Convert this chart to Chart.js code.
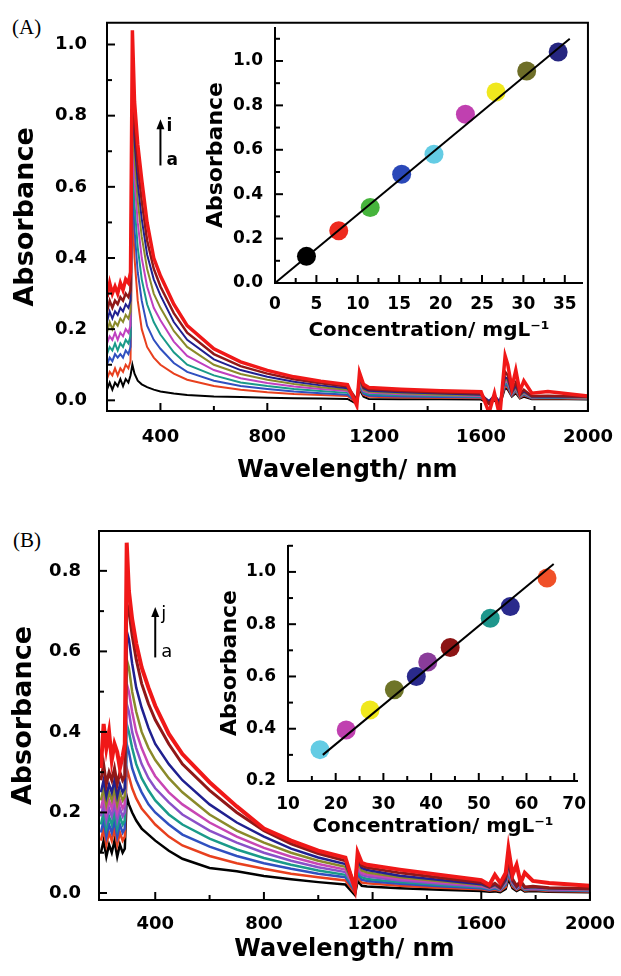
<!DOCTYPE html>
<html>
<head>
<meta charset="utf-8">
<script src="https://cdn.jsdelivr.net/npm/chart.js@4.4.1/dist/chart.umd.min.js"></script>
<style>
body { margin: 0; background: #fff; width: 621px; height: 976px; position: relative; overflow: hidden; }
canvas { position: absolute; }
.tag { position: absolute; font: 21px "Liberation Serif", "DejaVu Serif", serif; color: #000; }
</style>
</head>
<body>
<div class="tag" style="left:12px;top:15px">(A)</div>
<canvas id="mainA" width="621" height="490" style="left:0;top:0"></canvas>
<canvas id="insetA" width="420" height="340" style="left:190px;top:10px"></canvas>
<div class="tag" style="left:13px;top:528px">(B)</div>
<canvas id="mainB" width="621" height="486" style="left:0;top:490px"></canvas>
<canvas id="insetB" width="410" height="330" style="left:200px;top:520px"></canvas>
<script>
// wavelength grid shared by all spectra (nm)
const wavelength = [200,210,220,230,240,250,260,270,280,288,295,303,315,330,350,375,400,450,500,600,700,800,900,1000,1100,1135,1145,1160,1180,1300,1450,1600,1630,1650,1670,1690,1700,1715,1730,1745,1760,1790,1850,2000]
const wlTicks = [400, 800, 1200, 1600, 2000]
const wlMinor = [600, 1000, 1400, 1800]

// panel A spectra, curves a..i
const specAa = [0.03,0.05,0.03,0.05,0.04,0.06,0.04,0.06,0.05,0.07,0.10,0.075,0.055,0.045,0.037,0.03,0.025,0.019,0.015,0.011,0.009,0.007,0.006,0.005,0.004,-0.01,0.03,0.01,0.004,0.003,0.003,0.002,-0.01,0.0,-0.015,0.035,0.03,0.01,0.02,0.005,0.01,0.003,0.004,0.002]
const specAb = [0.06,0.08,0.07,0.09,0.07,0.09,0.08,0.10,0.09,0.11,0.55,0.40,0.28,0.20,0.15,0.12,0.10,0.075,0.058,0.04,0.03,0.023,0.018,0.015,0.012,-0.008,0.035,0.015,0.01,0.008,0.007,0.006,-0.008,0.004,-0.012,0.04,0.035,0.012,0.025,0.007,0.014,0.005,0.006,0.004]
const specAc = [0.10,0.12,0.11,0.13,0.12,0.13,0.12,0.14,0.13,0.15,0.62,0.48,0.36,0.28,0.21,0.17,0.145,0.105,0.08,0.055,0.04,0.032,0.025,0.02,0.016,-0.006,0.04,0.018,0.013,0.011,0.009,0.008,-0.006,0.006,-0.01,0.045,0.04,0.014,0.028,0.009,0.016,0.006,0.007,0.005]
const specAd = [0.13,0.15,0.14,0.16,0.14,0.16,0.15,0.17,0.16,0.18,0.68,0.55,0.43,0.34,0.27,0.22,0.185,0.135,0.10,0.07,0.05,0.04,0.032,0.026,0.021,-0.004,0.045,0.022,0.017,0.014,0.012,0.01,-0.005,0.008,-0.008,0.05,0.045,0.016,0.03,0.01,0.018,0.007,0.008,0.006]
const specAe = [0.16,0.18,0.17,0.19,0.17,0.19,0.18,0.20,0.19,0.21,0.74,0.62,0.50,0.40,0.32,0.26,0.225,0.165,0.125,0.085,0.062,0.049,0.039,0.032,0.026,-0.003,0.05,0.026,0.021,0.017,0.014,0.012,-0.004,0.01,-0.006,0.055,0.05,0.018,0.033,0.011,0.02,0.008,0.009,0.007]
const specAf = [0.19,0.22,0.20,0.22,0.21,0.23,0.22,0.24,0.23,0.25,0.80,0.68,0.56,0.46,0.37,0.30,0.26,0.195,0.15,0.10,0.074,0.058,0.046,0.037,0.03,-0.002,0.055,0.03,0.024,0.02,0.016,0.014,-0.003,0.012,-0.005,0.06,0.055,0.02,0.036,0.012,0.022,0.009,0.01,0.008]
const specAg = [0.22,0.25,0.23,0.25,0.24,0.26,0.25,0.27,0.26,0.28,0.84,0.73,0.61,0.51,0.41,0.34,0.295,0.22,0.17,0.115,0.085,0.066,0.052,0.042,0.034,0.0,0.06,0.034,0.027,0.023,0.019,0.016,-0.002,0.014,-0.004,0.065,0.06,0.022,0.04,0.014,0.025,0.01,0.011,0.009]
const specAh = [0.25,0.28,0.26,0.28,0.27,0.29,0.28,0.30,0.29,0.31,0.88,0.78,0.66,0.56,0.45,0.37,0.32,0.245,0.19,0.13,0.096,0.075,0.059,0.048,0.039,0.002,0.065,0.038,0.031,0.026,0.022,0.019,-0.01,0.015,-0.02,0.08,0.07,0.026,0.05,0.016,0.03,0.012,0.013,0.01]
const specAi = [0.29,0.33,0.30,0.32,0.30,0.33,0.31,0.34,0.33,0.36,1.04,0.84,0.72,0.62,0.50,0.40,0.35,0.27,0.21,0.145,0.108,0.084,0.066,0.054,0.044,-0.015,0.078,0.045,0.036,0.031,0.027,0.024,-0.035,0.02,-0.045,0.125,0.10,0.035,0.085,0.025,0.055,0.02,0.025,0.012]
const colorsA = ['#000000','#e8401e','#3050c0','#1a9a8a','#c040c0','#8a8a2a','#202090','#901818','#f01818']

// panel B spectra, curves a..j
const specBa = [0.10,0.13,0.09,0.12,0.10,0.13,0.09,0.12,0.10,0.11,0.24,0.22,0.20,0.18,0.16,0.145,0.13,0.105,0.085,0.062,0.054,0.042,0.034,0.027,0.021,-0.005,0.03,0.018,0.016,0.012,0.008,0.005,0.003,0.004,0.002,0.01,0.035,0.012,0.005,0.01,0.004,0.005,0.003,0.002]
const specBb = [0.13,0.16,0.12,0.15,0.13,0.16,0.12,0.15,0.13,0.14,0.31,0.29,0.26,0.235,0.21,0.19,0.17,0.14,0.118,0.092,0.074,0.06,0.048,0.039,0.031,0.0,0.04,0.026,0.024,0.018,0.013,0.009,0.006,0.008,0.005,0.015,0.045,0.016,0.008,0.014,0.006,0.008,0.005,0.004]
const specBc = [0.15,0.18,0.14,0.17,0.15,0.18,0.14,0.17,0.15,0.16,0.37,0.35,0.31,0.28,0.25,0.22,0.20,0.17,0.145,0.115,0.092,0.074,0.06,0.048,0.039,0.005,0.048,0.033,0.03,0.023,0.017,0.012,0.008,0.011,0.007,0.02,0.05,0.02,0.01,0.017,0.008,0.01,0.007,0.005]
const specBd = [0.17,0.20,0.16,0.19,0.17,0.20,0.16,0.19,0.17,0.18,0.42,0.40,0.36,0.32,0.285,0.255,0.23,0.195,0.17,0.135,0.108,0.087,0.07,0.056,0.045,0.008,0.055,0.039,0.035,0.027,0.02,0.014,0.01,0.013,0.008,0.022,0.055,0.022,0.011,0.019,0.009,0.011,0.008,0.006]
const specBe = [0.19,0.22,0.18,0.21,0.19,0.22,0.18,0.21,0.19,0.20,0.47,0.45,0.40,0.36,0.32,0.285,0.26,0.225,0.195,0.155,0.125,0.10,0.08,0.064,0.052,0.01,0.062,0.045,0.041,0.031,0.023,0.016,0.011,0.015,0.009,0.025,0.06,0.024,0.012,0.021,0.01,0.012,0.009,0.007]
const specBf = [0.21,0.24,0.20,0.23,0.21,0.24,0.20,0.23,0.21,0.22,0.52,0.50,0.45,0.40,0.36,0.32,0.29,0.25,0.22,0.175,0.14,0.112,0.09,0.072,0.058,0.012,0.068,0.05,0.046,0.035,0.026,0.018,0.012,0.017,0.01,0.028,0.065,0.026,0.013,0.023,0.011,0.013,0.01,0.008]
const specBg = [0.23,0.26,0.22,0.25,0.23,0.26,0.22,0.25,0.23,0.24,0.58,0.56,0.50,0.45,0.40,0.36,0.33,0.285,0.25,0.195,0.155,0.125,0.10,0.08,0.065,0.014,0.075,0.056,0.051,0.039,0.029,0.02,0.013,0.019,0.011,0.03,0.07,0.028,0.014,0.025,0.012,0.014,0.011,0.009]
const specBh = [0.25,0.28,0.24,0.27,0.25,0.28,0.24,0.27,0.25,0.26,0.65,0.63,0.57,0.51,0.46,0.41,0.37,0.32,0.28,0.22,0.175,0.14,0.11,0.088,0.072,0.016,0.082,0.062,0.057,0.043,0.032,0.022,0.014,0.021,0.012,0.033,0.075,0.03,0.015,0.027,0.013,0.015,0.012,0.01]
const specBi = [0.28,0.32,0.27,0.30,0.28,0.31,0.27,0.30,0.28,0.29,0.72,0.70,0.64,0.58,0.52,0.47,0.43,0.37,0.32,0.255,0.20,0.155,0.122,0.098,0.08,0.02,0.09,0.068,0.063,0.05,0.038,0.026,0.016,0.024,0.014,0.04,0.085,0.035,0.018,0.03,0.015,0.017,0.013,0.011]
const specBj = [0.31,0.42,0.36,0.40,0.33,0.37,0.35,0.31,0.34,0.37,0.87,0.75,0.68,0.62,0.56,0.51,0.465,0.395,0.345,0.275,0.215,0.16,0.13,0.105,0.088,0.01,0.10,0.075,0.07,0.058,0.045,0.032,0.02,0.045,0.025,0.05,0.11,0.045,0.07,0.025,0.05,0.03,0.025,0.018]
const colorsB = ['#000000','#e8401e','#3050c0','#1a9a8a','#8a50c8','#c846b4','#8a8a2a','#202090','#901818','#f01818']

// insets: concentration (mg/L) vs absorbance
const concA = [3.8, 7.7, 11.5, 15.3, 19.2, 23.0, 26.7, 30.4, 34.2]
const absA = [0.12, 0.235, 0.34, 0.49, 0.58, 0.76, 0.86, 0.955, 1.04]
const dotColorsA = ['#000000','#ee2a1e','#46b43c','#2a48b8','#64cce4','#c040b0','#f0e81e','#6e6e28','#262680']
const fitConcA = [0, 35.6]
const fitAbsA = [0, 1.10]

const concB = [16.7, 22.2, 27.2, 32.3, 36.9, 39.3, 44.0, 52.4, 56.6, 64.3]
const absB = [0.32, 0.395, 0.472, 0.549, 0.60, 0.655, 0.711, 0.823, 0.868, 0.977]
const dotColorsB = ['#64cce4','#c040b0','#f0e81e','#6e7428','#2a2a8c','#8a3c9a','#8c1414','#1e968c','#2a2a8c','#f05028']
const fitConcB = [17.3, 65.7]
const fitAbsB = [0.30, 1.03]

Chart.defaults.font.family = '"DejaVu Sans", sans-serif'
Chart.defaults.font.weight = 'bold'
Chart.defaults.color = '#000'

// axis frame with inward tick marks
const frame = {
  id: 'frame',
  afterDraw(chart, args, o) {
    const { ctx, chartArea: a, scales } = chart
    ctx.save()
    ctx.strokeStyle = '#000'
    ctx.lineWidth = 2
    ctx.beginPath()
    if (o.box) {
      ctx.rect(a.left, a.top, a.right - a.left, a.bottom - a.top)
    } else {
      ctx.moveTo(a.left, a.top)
      ctx.lineTo(a.left, a.bottom)
      ctx.lineTo(a.right, a.bottom)
    }
    ctx.stroke()
    const marks = (scale, vals, len) => vals.forEach(v => {
      const p = scale.getPixelForValue(v)
      ctx.beginPath()
      if (scale.axis === 'x') { ctx.moveTo(p, a.bottom); ctx.lineTo(p, a.bottom - len) }
      else { ctx.moveTo(a.left, p); ctx.lineTo(a.left + len, p) }
      ctx.stroke()
    })
    marks(scales.x, o.xMajor, 8)
    marks(scales.x, o.xMinor, 5)
    marks(scales.y, o.yMajor, 8)
    marks(scales.y, o.yMinor, 5)
    ctx.restore()
  }
}

// a -> i arrow
const arrow = {
  id: 'arrow',
  afterDraw(chart, args, o) {
    const { ctx, scales: { x, y } } = chart
    const px = x.getPixelForValue(o.at)
    const top = y.getPixelForValue(o.top)
    const bot = y.getPixelForValue(o.bottom)
    ctx.save()
    ctx.strokeStyle = '#000'
    ctx.fillStyle = '#000'
    ctx.lineWidth = 2
    ctx.beginPath()
    ctx.moveTo(px, bot)
    ctx.lineTo(px, top + 6)
    ctx.stroke()
    ctx.beginPath()
    ctx.moveTo(px, top)
    ctx.lineTo(px - 4, top + 10)
    ctx.lineTo(px + 4, top + 10)
    ctx.closePath()
    ctx.fill()
    ctx.font = o.font
    ctx.textBaseline = 'middle'
    ctx.fillText(o.last, px + 6, top + 7)
    ctx.fillText('a', px + 6, bot - 5)
    ctx.restore()
  }
}

function spectrum(id, curves, colors, widths, o) {
  return new Chart(document.getElementById(id), {
    type: 'line',
    data: {
      datasets: curves.map((c, i) => ({
        data: c.map((v, k) => ({ x: wavelength[k], y: v })),
        borderColor: colors[i],
        borderWidth: widths[i],
        pointRadius: 0,
        tension: 0,
        fill: false,
        order: curves.length - i
      }))
    },
    options: {
      responsive: false,
      animation: false,
      events: [],
      layout: { padding: { left: 0, top: o.top, right: o.right, bottom: 0 } },
      plugins: {
        legend: { display: false },
        tooltip: { enabled: false },
        frame: { box: true, xMajor: wlTicks, xMinor: wlMinor, yMajor: o.yTicks, yMinor: o.yMinor },
        arrow: o.arrow
      },
      scales: {
        x: {
          type: 'linear', min: o.xMin, max: 2000,
          grid: { display: false }, border: { display: false },
          afterBuildTicks: s => { s.ticks = wlTicks.map(v => ({ value: v })) },
          afterFit: s => { s.height = o.xH },
          ticks: { font: { size: 18 }, padding: o.xPad, maxRotation: 0, autoSkip: false, callback: v => String(v) },
          title: { display: true, text: 'Wavelength/ nm', font: { size: 24, lineHeight: 1 }, padding: { top: 0, bottom: o.xtPad } }
        },
        y: {
          min: o.yMin, max: o.yMax,
          grid: { display: false }, border: { display: false },
          afterBuildTicks: s => { s.ticks = o.yTicks.map(v => ({ value: v })) },
          afterFit: s => { s.width = o.left },
          ticks: { font: { size: 18 }, padding: o.yPad, callback: v => v.toFixed(1), autoSkip: false },
          title: { display: true, text: 'Absorbance', font: { size: 27, lineHeight: 1 }, padding: { top: o.ytPad, bottom: 0 } }
        }
      }
    },
    plugins: [frame, arrow]
  })
}

function inset(id, xs, ys, dots, fx, fy, o) {
  return new Chart(document.getElementById(id), {
    type: 'scatter',
    data: {
      datasets: [
        { type: 'line', data: fx.map((v, i) => ({ x: v, y: fy[i] })), borderColor: '#000', borderWidth: 2, pointRadius: 0, order: 0 },
        { data: xs.map((v, i) => ({ x: v, y: ys[i] })), pointBackgroundColor: dots, pointBorderWidth: 0, pointRadius: 9.5, clip: false, order: 1 }
      ]
    },
    options: {
      responsive: false,
      animation: false,
      events: [],
      layout: { padding: { left: 0, top: o.top, right: o.right, bottom: 0 } },
      plugins: {
        legend: { display: false },
        tooltip: { enabled: false },
        frame: { box: false, xMajor: o.xTicks, xMinor: o.xMinor, yMajor: o.yTicks, yMinor: o.yMinor }
      },
      scales: {
        x: {
          type: 'linear', min: o.xMin, max: o.xMax,
          grid: { display: false }, border: { display: false },
          afterBuildTicks: s => { s.ticks = o.xTicks.map(v => ({ value: v })) },
          afterFit: s => { s.height = o.xH },
          ticks: { font: { size: 17 }, padding: o.xPad, maxRotation: 0, autoSkip: false },
          title: { display: true, text: 'Concentration/ mgL⁻¹', font: { size: 20, lineHeight: 1 }, padding: { top: 0, bottom: o.xtPad } }
        },
        y: {
          min: o.yMin, max: o.yMax,
          grid: { display: false }, border: { display: false },
          afterBuildTicks: s => { s.ticks = o.yTicks.map(v => ({ value: v })) },
          afterFit: s => { s.width = o.left },
          ticks: { font: { size: 17 }, padding: 4, callback: v => v.toFixed(1), autoSkip: false },
          title: { display: true, text: 'Absorbance', font: { size: 22, lineHeight: 1 }, padding: { top: o.ytPad, bottom: 0 } }
        }
      }
    },
    plugins: [frame]
  })
}

spectrum('mainA',
  [specAa, specAb, specAc, specAd, specAe, specAf, specAg, specAh, specAi],
  colorsA, [2, 2, 2, 2, 2, 2, 2, 2.5, 3.5],
  { xMin: 200, yMin: -0.03, yMax: 1.061, left: 107, top: 16, right: 28, xH: 79, xPad: 8, xtPad: 7, yPad: 12, ytPad: 12,
    yTicks: [0, 0.2, 0.4, 0.6, 0.8, 1.0], yMinor: [0.1, 0.3, 0.5, 0.7, 0.9],
    arrow: { at: 400, top: 0.79, bottom: 0.66, last: 'i', font: 'bold 17px "DejaVu Sans"' } })

spectrum('mainB',
  [specBa, specBb, specBc, specBd, specBe, specBf, specBg, specBh, specBi, specBj],
  colorsB, [2.5, 2.5, 2.5, 2.5, 2.5, 2.5, 2.5, 2.5, 3, 4],
  { xMin: 193, yMin: -0.0174, yMax: 0.899, left: 99, top: 41, right: 24, xH: 76, xPad: 6, xtPad: 14, yPad: 10, ytPad: 10,
    yTicks: [0, 0.2, 0.4, 0.6, 0.8], yMinor: [0.1, 0.3, 0.5, 0.7],
    arrow: { at: 400, top: 0.71, bottom: 0.585, last: 'j', font: '18px "DejaVu Sans"' } })

inset('insetA', concA, absA, dotColorsA, fitConcA, fitAbsA,
  { xMin: 0, xMax: 37.2, yMin: 0, yMax: 1.153, left: 85, top: 17, right: 27, xH: 67, xPad: 3, xtPad: 9, ytPad: 15,
    xTicks: [0, 5, 10, 15, 20, 25, 30, 35], xMinor: [2.5, 7.5, 12.5, 17.5, 22.5, 27.5, 32.5],
    yTicks: [0, 0.2, 0.4, 0.6, 0.8, 1.0], yMinor: [0.1, 0.3, 0.5, 0.7, 0.9, 1.1] })

inset('insetB', concB, absB, dotColorsB, fitConcB, fitAbsB,
  { xMin: 10, xMax: 70.8, yMin: 0.2, yMax: 1.103, left: 88, top: 25, right: 32, xH: 69, xPad: 5, xtPad: 13, ytPad: 19,
    xTicks: [10, 20, 30, 40, 50, 60, 70], xMinor: [15, 25, 35, 45, 55, 65],
    yTicks: [0.2, 0.4, 0.6, 0.8, 1.0], yMinor: [0.3, 0.5, 0.7, 0.9, 1.1] })
</script>
</body>
</html>
